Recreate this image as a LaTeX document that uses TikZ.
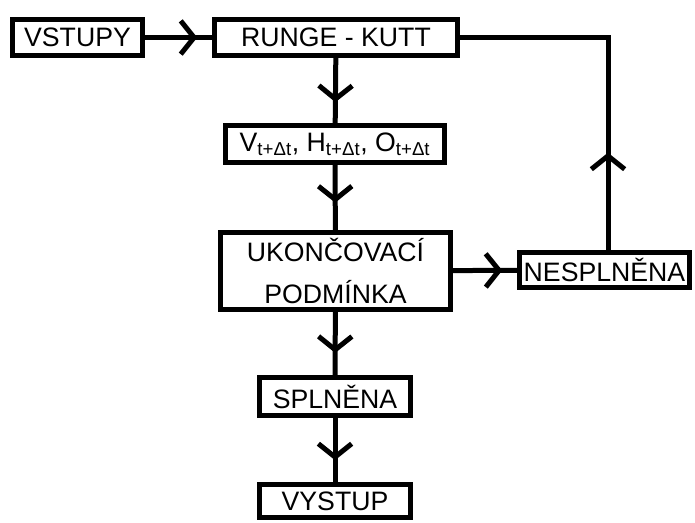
\documentclass[tikz,border=0pt]{standalone}
\usepackage{fontspec}
\setmainfont{Liberation Sans}
\usetikzlibrary{arrows.meta,decorations.markings}
\begin{document}
\begin{tikzpicture}[x=0.75pt,y=-0.75pt,line width=3.75pt,
    blok/.style={draw,inner sep=0pt,minimum height=27pt,align=center,font=\fontsize{20}{31}\selectfont},
    sipka/.style={postaction={decorate},decoration={markings,
      mark=at position #1 with {\arrow{Straight Barb[length=10pt,width=25pt]}}}}]
  \useasboundingbox (0,0) rectangle (695,522);
  \draw
    (77.5,37.5) node[blok,minimum width=97.5pt] (vstupy){VSTUPY}
    (336,37.5) node[blok,minimum width=182.25pt] (runge){RUNGE - KUTT}
    (335,144) node[blok,minimum width=164.25pt,minimum height=27.75pt] (stav){V\textsubscript{t+Δt}, H\textsubscript{t+Δt}, O\textsubscript{t+Δt}}
    (335.5,271) node[blok,minimum width=172.5pt,minimum height=57.75pt] (podminka){UKONČOVACÍ\\PODMÍNKA}
    (604.5,270) node[blok,minimum width=127.5pt,minimum height=26.25pt] (ne){NESPLNĚNA}
    (335,396.5) node[blok,minimum width=113.25pt,minimum height=28.5pt] (ano){SPLNĚNA}
    (335,501) node[blok,minimum width=113.25pt,minimum height=24.75pt] (vystup){VYSTUP};
  \coordinate (roh) at (608,37.5);
  \begin{scope}
    \draw[sipka=0.78] (vstupy) -- (runge);
    \draw[sipka=0.68] (runge) -- (stav);
    \draw[sipka=0.58] (stav) -- (podminka);
    \draw[sipka=0.77] (podminka) -- (ne);
    \draw[sipka=0.65] (podminka) -- (ano);
    \draw[sipka=0.66] (ano) -- (vystup);
    \draw[sipka=0.27] (ne.north -| roh) |- (runge.east);
  \end{scope}
\end{tikzpicture}
\end{document}
